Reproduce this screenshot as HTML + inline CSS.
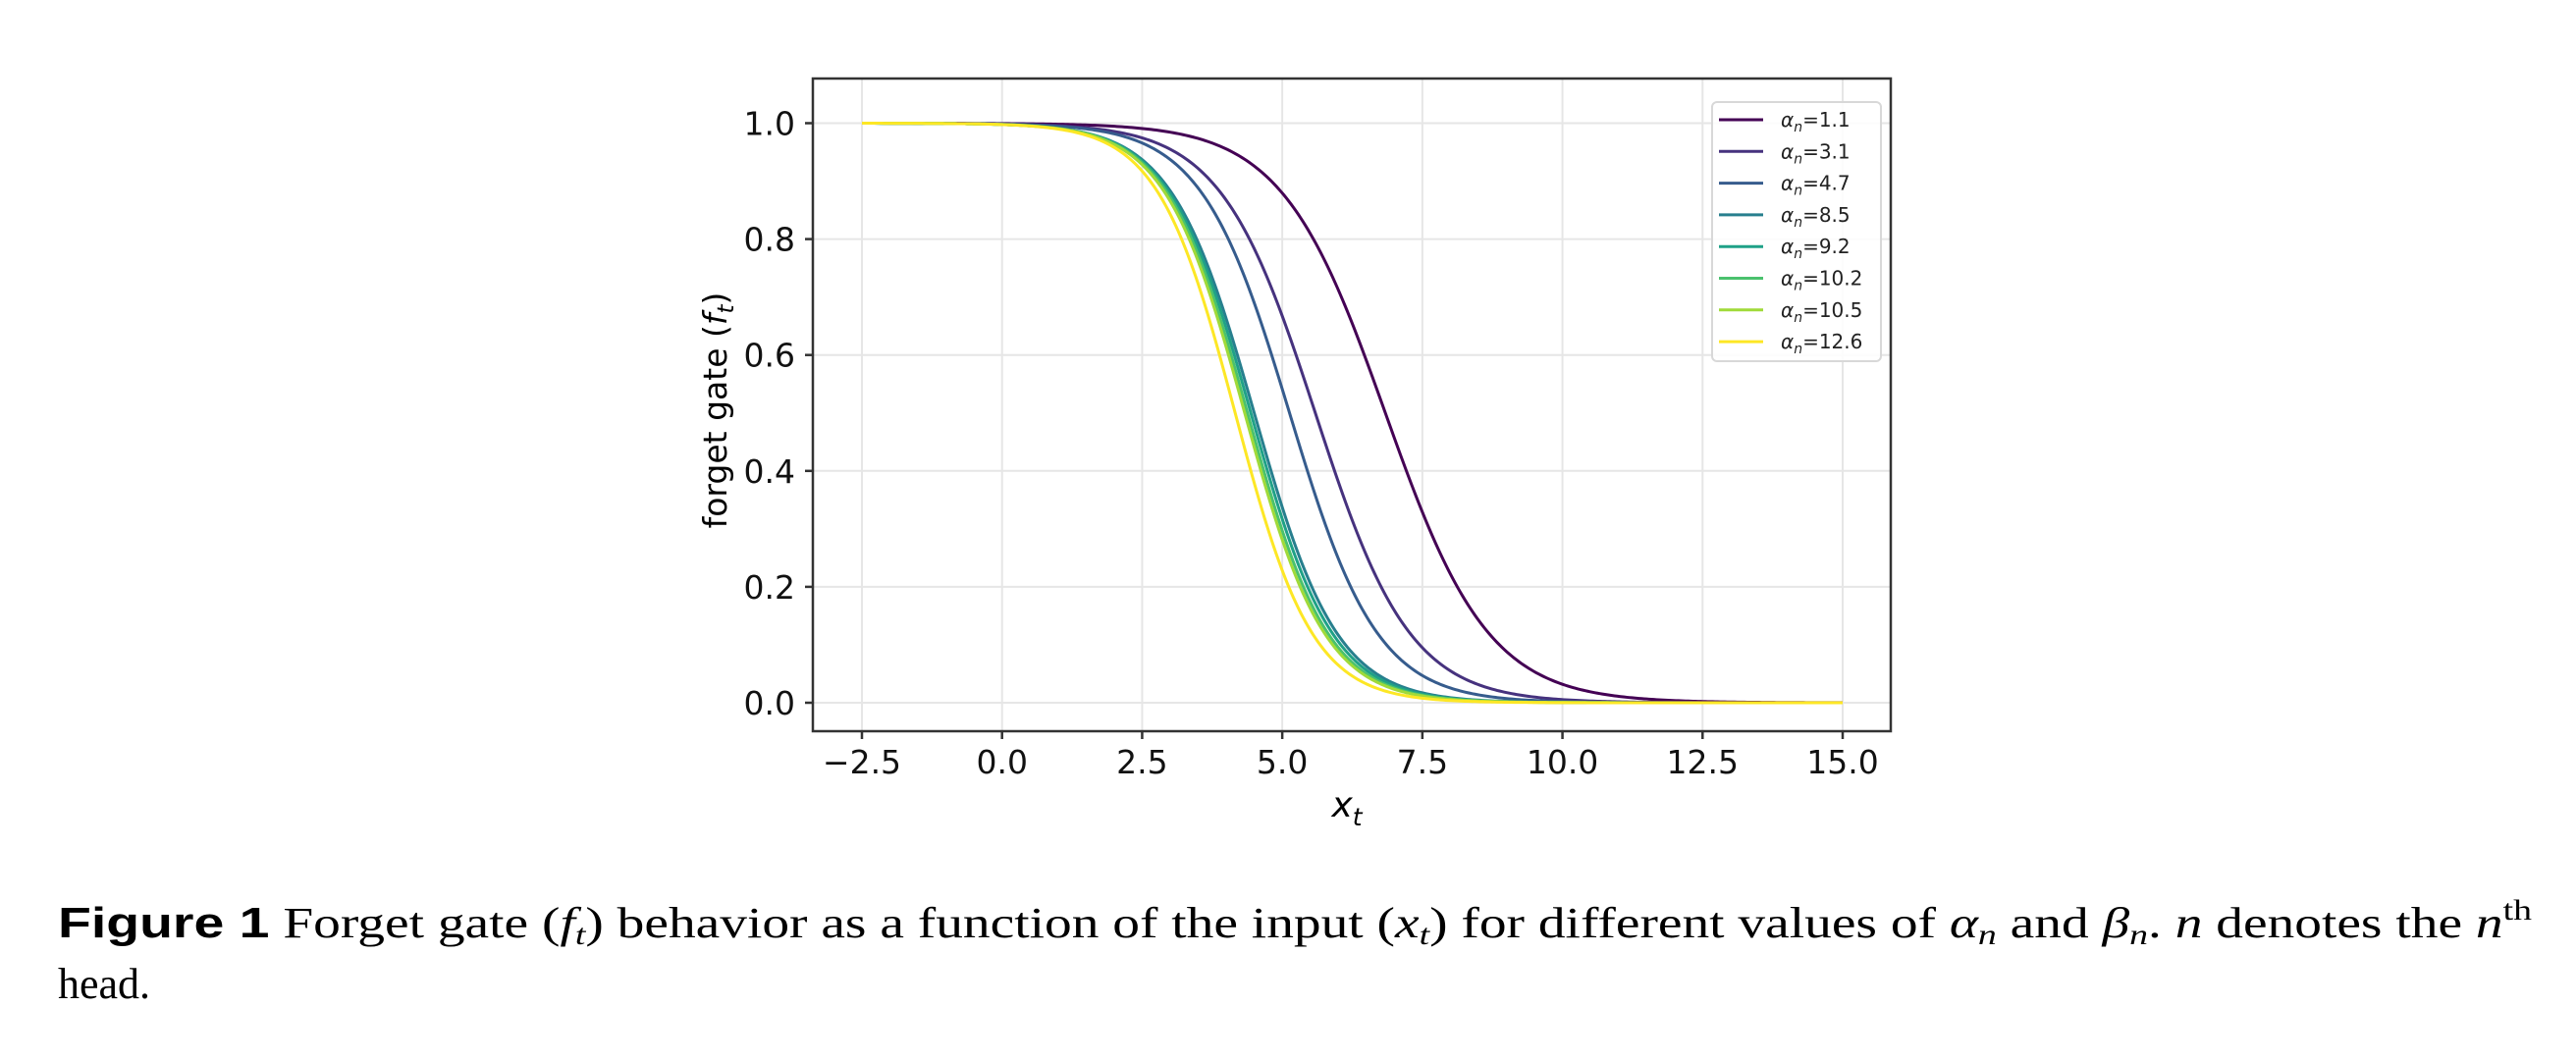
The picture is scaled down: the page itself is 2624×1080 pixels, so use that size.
<!DOCTYPE html>
<html><head><meta charset="utf-8"><style>
html,body{margin:0;padding:0;background:#fff;width:2624px;height:1080px;overflow:hidden}
svg{display:block}
</style></head><body>
<svg id="chart" width="2624" height="1080" xmlns="http://www.w3.org/2000/svg">
<g id="grid"></g>
<g id="curves"></g>
<rect x="828" y="80" width="1098" height="665" fill="none" stroke="#333" stroke-width="2.5"/>
<g id="ticks" font-family="DejaVu Sans, sans-serif" font-size="33" fill="#111"></g>
<text x="1372" y="832" font-family="DejaVu Sans, sans-serif" font-size="36" font-style="italic" text-anchor="middle">x<tspan font-size="25" dy="9">t</tspan></text>
<text transform="translate(740,418) rotate(-90)" font-family="DejaVu Sans, sans-serif" font-size="33" text-anchor="middle">forget gate (<tspan font-style="italic">f</tspan><tspan font-style="italic" font-size="23" dy="7">t</tspan><tspan dy="-7">)</tspan></text>
<g id="legend"></g>
<text x="59" y="955" font-family="Liberation Serif, serif" font-size="44" textLength="2520" lengthAdjust="spacingAndGlyphs"><tspan font-family="Liberation Sans, sans-serif" font-weight="bold">Figure 1</tspan> Forget gate (<tspan font-style="italic">f<tspan font-size="30" dy="7">t</tspan></tspan><tspan dy="-7">) behavior as a function of the input (</tspan><tspan font-style="italic">x<tspan font-size="30" dy="7">t</tspan></tspan><tspan dy="-7">) for different values of </tspan><tspan font-style="italic">α<tspan font-size="30" dy="7">n</tspan></tspan><tspan dy="-7"> and </tspan><tspan font-style="italic">β<tspan font-size="30" dy="7">n</tspan></tspan><tspan dy="-7">. </tspan><tspan font-style="italic">n</tspan> denotes the <tspan font-style="italic">n</tspan><tspan font-size="30" dy="-18">th</tspan></text>
<text x="59" y="1017" font-family="Liberation Serif, serif" font-size="44">head.</text>
</svg>
<script>
const alphas = [1.1, 3.1, 4.7, 8.5, 9.2, 10.2, 10.5, 12.6];
const midpoints = [6.84, 5.59, 5.13, 4.5, 4.44, 4.38, 4.33, 4.16];
const steepness = [1.08, 1.18, 1.27, 1.35, 1.37, 1.39, 1.4, 1.45];
const colors = ["#440154", "#46327e", "#365c8d", "#277f8e", "#1fa187", "#4ac16d", "#a0da39", "#fde725"];
const xTicks = [-2.5, 0.0, 2.5, 5.0, 7.5, 10.0, 12.5, 15.0];
const yTicks = [0.0, 0.2, 0.4, 0.6, 0.8, 1.0];
const xMin = -2.5, xMax = 15;

const NS = "http://www.w3.org/2000/svg";
function X(v){ return 878 + (v + 2.5) * (1877 - 878) / 17.5; }
function Y(v){ return 716 - v * (716 - 125.5); }
function mk(tag, attrs, parent){ const e = document.createElementNS(NS, tag); for (const k in attrs) e.setAttribute(k, attrs[k]); parent.appendChild(e); return e; }

const grid = document.getElementById('grid');
const ticks = document.getElementById('ticks');
xTicks.forEach(t => {
  const g = mk('line', {x1:X(t), x2:X(t), y1:80, y2:745, stroke:'#e6e6e6', 'stroke-width':2}, grid);
  
  
  const tk = mk('line', {x1:X(t), x2:X(t), y1:745, y2:753, stroke:'#333', 'stroke-width':2.5}, ticks);
  
  
  const lb = mk('text', {x:X(t), y:788, 'text-anchor':'middle'}, ticks);
  lb.textContent = (t < 0 ? '\u2212' : '') + Math.abs(t).toFixed(1);
  
  
});
yTicks.forEach(t => {
  const g = mk('line', {x1:828, x2:1926, y1:Y(t), y2:Y(t), stroke:'#e6e6e6', 'stroke-width':2}, grid);
  
  
  const tk = mk('line', {x1:820, x2:828, y1:Y(t), y2:Y(t), stroke:'#333', 'stroke-width':2.5}, ticks);
  
  
  const lb = mk('text', {x:810, y:Y(t) + 12, 'text-anchor':'end'}, ticks);
  lb.textContent = t.toFixed(1);
  
  
});

const curves = document.getElementById('curves');
alphas.forEach((a, i) => {
  let d = '';
  for (let s = 0; s <= 400; s++) {
    const x = xMin + (xMax - xMin) * s / 400;
    const f = 1 / (1 + Math.exp(steepness[i] * (x - midpoints[i])));
    d += (s ? 'L' : 'M') + X(x).toFixed(2) + ' ' + Y(f).toFixed(2);
  }
  const p = mk('path', {d:d, fill:'none', stroke:colors[i], 'stroke-width':3}, curves);
  
  
});

const legend = document.getElementById('legend');
const box = mk('rect', {x:1744, y:104, width:172, height:264, rx:5, fill:'#fff', 'fill-opacity':0.85, stroke:'#d8d8d8', 'stroke-width':2}, legend);


alphas.forEach((a, i) => {
  const y = 122 + i * 32.3;
  const ln = mk('line', {x1:1751, x2:1796, y1:y, y2:y, stroke:colors[i], 'stroke-width':3}, legend);
  
  
  const tx = mk('text', {x:1814, y:y + 7, 'font-family':'DejaVu Sans, sans-serif', 'font-size':20, fill:'#222'}, legend);
  tx.innerHTML = '<tspan font-style="italic">α</tspan><tspan font-style="italic" font-size="14" dy="5">n</tspan><tspan dy="-5">=' + a + '</tspan>';
  
  
});
</script>
</body></html>
